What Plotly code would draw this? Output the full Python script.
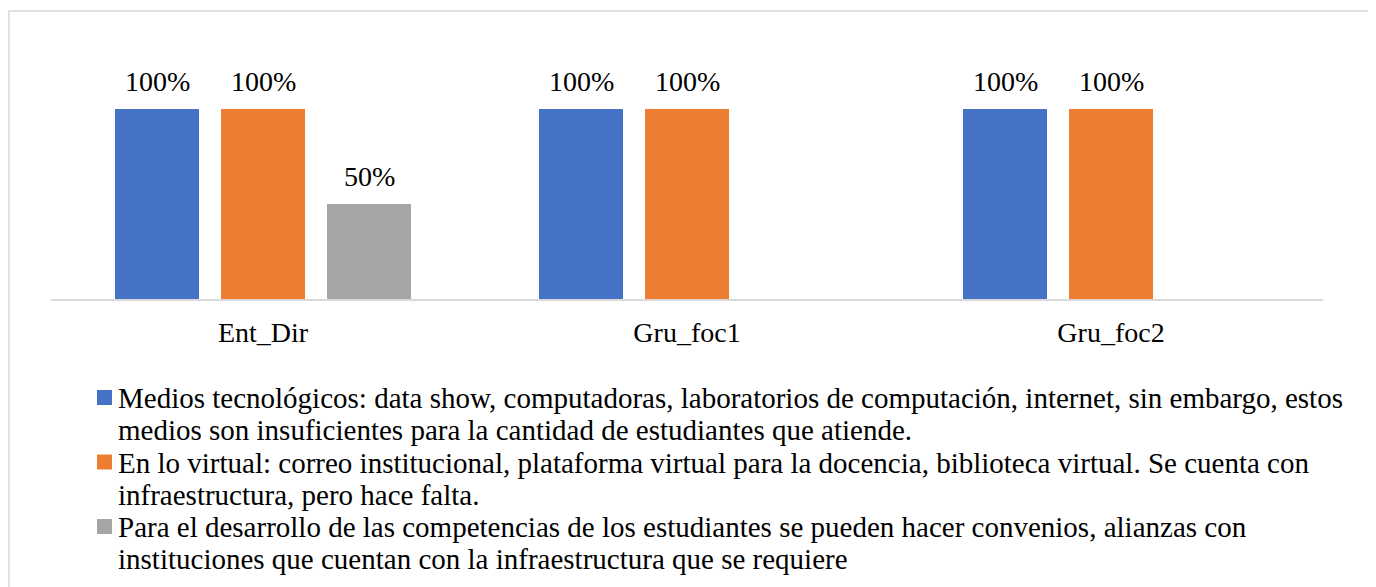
import plotly.graph_objects as go

categories = ["Ent_Dir", "Gru_foc1", "Gru_foc2"]
series_lines = [
    ["Medios tecnológicos: data show, computadoras, laboratorios de computación, internet, sin embargo, estos",
     "medios son insuficientes para la cantidad de estudiantes que atiende."],
    ["En lo virtual: correo institucional, plataforma virtual para la docencia, biblioteca virtual. Se cuenta con",
     "infraestructura, pero hace falta."],
    ["Para el desarrollo de las competencias de los estudiantes se pueden hacer convenios, alianzas con",
     "instituciones que cuentan con la infraestructura que se requiere"],
]
values_medios = [100, 100, 100]
values_virtual = [100, 100, 100]
values_convenios = [50, None, None]
colors = ["#4472C4", "#ED7D31", "#A5A5A5"]

FONT = "Liberation Serif, Times New Roman, serif"
all_values = [values_medios, values_virtual, values_convenios]

# page offset of 8px (body margin) is accounted for in these layout numbers
W, H = 1368, 579
ml, mr, mt, mb = 43, 53, 32, 288
plot_w = W - ml - mr
plot_h = H - mt - mb
ymax = plot_h / 190 * 100
slot_px = plot_w / 3 * 0.75 / 3

fig = go.Figure()
annotations = []
for i, (lines, vals, col) in enumerate(zip(series_lines, all_values, colors)):
    fig.add_trace(go.Bar(
        x=categories, y=vals, name=" ".join(lines), marker=dict(color=col, line=dict(width=0)),
        showlegend=False,
    ))
    for cat, v in zip(categories, vals):
        if v is None:
            continue
        annotations.append(dict(
            x=cat, y=v, xref="x", yref="y", text=f"{v}%", showarrow=False,
            xshift=(i - 1) * slot_px, yshift=10, yanchor="bottom", xanchor="center",
            font=dict(family=FONT, size=28, color="#000000"),
        ))

# custom legend (square + two wrapped lines per series)
shapes = []
item_step = 64.5
line_step = 32.25
first_center = 390  # figure px from top
text_x = 108
sq_x0, sq_size = 89, 15
sq_top0 = 382

def px_to_paper_x(px):
    return (px - ml) / plot_w

def px_to_paper_y(py):
    return (H - mb - py) / plot_h

for i, (lines, col) in enumerate(zip(series_lines, colors)):
    top = sq_top0 + i * item_step
    shapes.append(dict(type="rect", xref="paper", yref="paper",
                       x0=px_to_paper_x(sq_x0), x1=px_to_paper_x(sq_x0 + sq_size),
                       y0=px_to_paper_y(top + sq_size), y1=px_to_paper_y(top),
                       line=dict(width=0), fillcolor=col))
    for j, ln in enumerate(lines):
        cy = first_center + i * item_step + j * line_step
        annotations.append(dict(
            x=px_to_paper_x(text_x), y=px_to_paper_y(cy), xref="paper", yref="paper",
            text=ln, showarrow=False, xanchor="left", yanchor="middle",
            font=dict(family=FONT, size=29, color="#000000"),
        ))

shapes.append(dict(type="rect", xref="paper", yref="paper",
                   x0=px_to_paper_x(1), x1=1.2,
                   y0=-2, y1=px_to_paper_y(3),
                   line=dict(color="#D9D9D9", width=1.5), fillcolor="rgba(0,0,0,0)", layer="below"))

fig.update_layout(
    width=W, height=H,
    margin=dict(l=ml, r=mr, t=mt, b=mb, pad=0, autoexpand=False),
    paper_bgcolor="white", plot_bgcolor="white",
    barmode="group", bargap=0.25, bargroupgap=0.2075,
    font=dict(family=FONT, size=28, color="#000000"),
    xaxis=dict(showline=True, linecolor="#D9D9D9", linewidth=1.5, ticks="",
               tickfont=dict(family=FONT, size=28, color="#000000"), showgrid=False,
               ticklabelstandoff=8),
    yaxis=dict(range=[0, ymax], visible=False, showgrid=False),
    showlegend=False,
    annotations=annotations,
    shapes=shapes,
)

fig.write_html("out.html")
